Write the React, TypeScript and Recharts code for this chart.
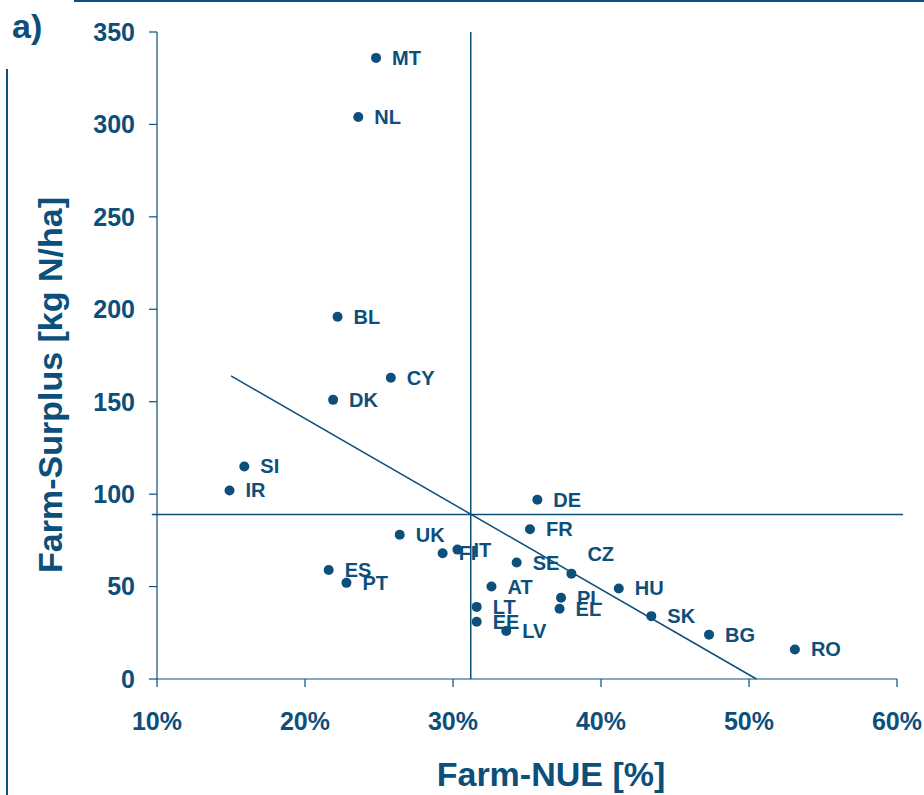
import { ReferenceLine, Scatter, ScatterChart, XAxis, YAxis } from "recharts";

const countries = ["MT", "NL", "BL", "CY", "DK", "SI", "IR", "DE", "FR", "UK", "FI", "IT", "SE", "CZ", "HU", "AT", "PL", "EL", "LT", "EE", "LV", "ES", "PT", "SK", "BG", "RO"];
const farmNue = [24.8, 23.6, 22.2, 25.8, 21.9, 15.9, 14.9, 35.7, 35.2, 26.4, 29.3, 30.3, 34.3, 38.0, 41.2, 32.6, 37.3, 37.2, 31.6, 31.6, 33.6, 21.6, 22.8, 43.4, 47.3, 53.1];
const farmSurplus = [336, 304, 196, 163, 151, 115, 102, 97, 81, 78, 68, 70, 63, 57, 49, 50, 44, 38, 39, 31, 26, 59, 52, 34, 24, 16];

const xTicks = [10, 20, 30, 40, 50, 60];
const yTicks = [0, 50, 100, 150, 200, 250, 300, 350];

// EU averages and the fitted trend
const meanNue = 31.2;
const meanSurplus = 89;
const trendStart = { x: 15.0, y: 164 };
const trendEnd = { x: 50.5, y: 0 };

const BLUE = "#0c4f7b";
const FONT = "'Liberation Sans', Arial, sans-serif";

// CZ label sits above its dot to keep clear of the trend line
const labelLift: Record<string, number> = { CZ: -20 };

const points = countries.map((name, i) => ({ name, nue: farmNue[i], surplus: farmSurplus[i] }));

function Dot(props: any) {
  const { cx, cy, payload } = props;
  const lift = labelLift[payload.name] ?? 0;
  return (
    <g>
      <circle cx={cx} cy={cy} r={5} fill={BLUE} />
      <text
        x={cx + 16}
        y={cy + lift}
        dominantBaseline="central"
        fill={BLUE}
        fontFamily={FONT}
        fontWeight="bold"
        fontSize={20}
      >
        {payload.name}
      </text>
    </g>
  );
}

const tickStyle = { fill: BLUE, fontFamily: FONT, fontWeight: "bold", fontSize: 25 };

export default function App() {
  return (
    <div style={{ position: "absolute", left: 0, top: 0, width: 924, height: 795, background: "#fff" }}>
      <svg width={924} height={795} style={{ position: "absolute", left: 0, top: 0 }}>
        <rect x={74} y={0} width={850} height={2} fill={BLUE} />
        <rect x={6} y={69} width={2} height={726} fill={BLUE} />
        <text x={12} y={38} fill={BLUE} fontFamily={FONT} fontWeight="bold" fontSize={34}>
          a)
        </text>
      </svg>
      <div style={{ position: "absolute", left: 0, top: 0 }}>
        <ScatterChart width={924} height={795} margin={{ top: 32, right: 27, bottom: 36, left: 0 }}>
          <XAxis
            type="number"
            dataKey="nue"
            domain={[10, 60]}
            ticks={xTicks}
            tickFormatter={(v) => `${v}%`}
            tick={tickStyle}
            tickSize={8}
            tickMargin={25}
            stroke={BLUE}
            strokeWidth={1.2}
            height={80}
            label={{
              content: () => (
                <text x={551} y={786} textAnchor="middle" fill={BLUE} fontFamily={FONT} fontWeight="bold" fontSize={34}>
                  Farm-NUE [%]
                </text>
              ),
            }}
          />
          <YAxis
            type="number"
            dataKey="surplus"
            domain={[0, 350]}
            ticks={yTicks}
            tick={tickStyle}
            tickSize={8}
            tickMargin={14}
            stroke={BLUE}
            strokeWidth={1.2}
            width={157}
            label={{
              content: () => (
                <text
                  x={62}
                  y={385}
                  transform="rotate(-90 62 385)"
                  textAnchor="middle"
                  fill={BLUE}
                  fontFamily={FONT}
                  fontWeight="bold"
                  fontSize={34}
                >
                  Farm-Surplus [kg N/ha]
                </text>
              ),
            }}
          />
          <ReferenceLine x={meanNue} stroke={BLUE} strokeWidth={1.5} />
          <ReferenceLine
            segment={[
              { x: 9.65, y: meanSurplus },
              { x: 60.4, y: meanSurplus },
            ]}
            ifOverflow="visible"
            stroke={BLUE}
            strokeWidth={1.5}
          />
          <ReferenceLine segment={[trendStart, trendEnd]} stroke={BLUE} strokeWidth={1.5} />
          <Scatter data={points} shape={Dot} isAnimationActive={false} />
        </ScatterChart>
      </div>
    </div>
  );
}
